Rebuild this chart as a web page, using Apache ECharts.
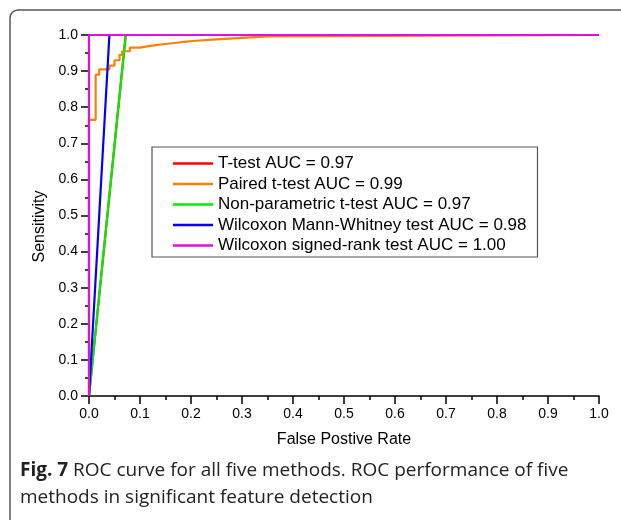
<!DOCTYPE html>
<html>
<head>
<meta charset="utf-8">
<script src="https://cdn.jsdelivr.net/npm/echarts@6/dist/echarts.min.js"></script>
<style>
html, body { margin: 0; padding: 0; background: #fff; }
#roc { width: 621px; height: 520px; }
</style>
</head>
<body>
<div id="roc"></div>
<script>
// ROC points [false positive rate, sensitivity]
const tTest = [[0, 0], [0.072, 1], [1, 1]]
const pairedTTest = [
  [0, 0], [0, 0.765], [0.013, 0.765], [0.013, 0.89], [0.02, 0.89], [0.02, 0.905],
  [0.04, 0.905], [0.04, 0.915], [0.05, 0.915], [0.05, 0.93], [0.06, 0.93], [0.06, 0.945],
  [0.065, 0.945], [0.065, 0.955], [0.08, 0.955], [0.08, 0.965], [0.1, 0.965], [0.1, 0.97],
  [0.12, 0.97], [0.12, 0.975], [0.15, 0.975], [0.15, 0.98], [0.18, 0.98], [0.18, 0.984],
  [0.21, 0.984], [0.21, 0.988], [0.25, 0.988], [0.25, 0.992], [0.3, 0.992], [0.3, 0.996],
  [0.35, 0.996], [0.35, 1], [1, 1]
]
const nonParametric = [[0, 0], [0.072, 1], [1, 1]]
const wilcoxonMW = [[0, 0], [0.04, 1], [1, 1]]
const wilcoxonSR = [[0, 0], [0, 1], [1, 1]]

const seriesNames = [
  'T-test AUC = 0.97',
  'Paired t-test AUC = 0.99',
  'Non-parametric t-test AUC = 0.97',
  'Wilcoxon Mann-Whitney test AUC = 0.98',
  'Wilcoxon signed-rank test AUC = 1.00'
]
const seriesData = [tTest, pairedTTest, nonParametric, wilcoxonMW, wilcoxonSR]
const seriesColors = ['#ff0000', '#ff8000', '#00ee00', '#0000ff', '#e010e0']

const font = 'Liberation Sans, Arial, sans-serif'
const capFont = 'Open Sans, sans-serif'

const axisCommon = {
  type: 'value', min: 0, max: 1, interval: 0.1,
  nameLocation: 'middle',
  nameTextStyle: { fontFamily: font, fontSize: 16, color: '#000' },
  axisLine: { show: true, lineStyle: { color: '#000', width: 1.5 } },
  axisTick: { show: true, length: 8, lineStyle: { color: '#000', width: 1.5 } },
  minorTick: { show: true, splitNumber: 2, length: 4, lineStyle: { color: '#000', width: 1.5 } },
  axisLabel: { fontFamily: font, fontSize: 14, color: '#000', margin: 11,
    formatter: v => v.toFixed(1) },
  splitLine: { show: false }
}

const chart = echarts.init(document.getElementById('roc'))
chart.setOption({
  animation: false,
  backgroundColor: '#fff',
  grid: { left: 89, right: 22, top: 35, bottom: 124 },
  xAxis: Object.assign({}, axisCommon, { name: 'False Postive Rate', nameGap: 36 }),
  yAxis: Object.assign({}, axisCommon, { name: 'Sensitivity', nameGap: 40,
    nameTextStyle: { fontFamily: font, fontSize: 16, color: '#000', padding: [0, 22, 0, 0] } }),
  legend: {
    orient: 'vertical', left: 152, top: 147,
    padding: [8, 11, 3, 21], itemGap: 3.5, itemWidth: 40, itemHeight: 2.5,
    icon: 'rect',
    borderColor: '#555', borderWidth: 1.2, borderRadius: 0,
    backgroundColor: '#fff',
    textStyle: { fontFamily: font, fontSize: 17, color: '#000' },
    data: seriesNames
  },
  series: seriesNames.map((name, i) => ({
    name: name, type: 'line', data: seriesData[i],
    showSymbol: false, symbol: 'none',
    color: seriesColors[i],
    lineStyle: { width: 2.2, color: seriesColors[i] }
  })),
  graphic: [
    // figure frame
    { type: 'rect', shape: { x: 10, y: 10, width: 700, height: 600, r: 8 },
      style: { fill: 'none', stroke: '#555', lineWidth: 1.5 }, z: -1 },
    // caption
    { type: 'text', left: 20, top: 457,
      style: {
        text: '{b|Fig. 7} ROC curve for all five methods. ROC performance of five\nmethods in significant feature detection',
        font: '19px ' + capFont, fill: '#222', lineHeight: 27,
        rich: { b: { fontWeight: 'bold', fontSize: 19, fontFamily: capFont, fill: '#222' } }
      } }
  ]
})
</script>
</body>
</html>
